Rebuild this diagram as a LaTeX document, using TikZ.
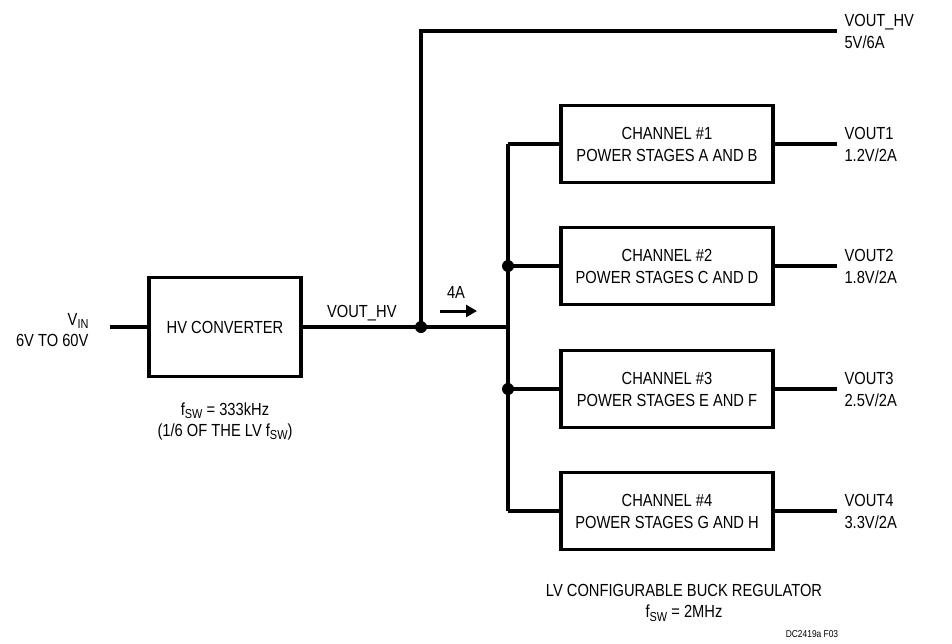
\documentclass[tikz,border=0pt]{standalone}
\usepackage{fontspec}
\setmainfont{Liberation Sans}[FakeStretch=0.84]
\usepackage{tikz}
\usetikzlibrary{arrows.meta, positioning, calc}
\newcommand{\lowsub}[1]{\raisebox{-0.35ex}{\fontsize{13}{13}\selectfont #1}}

\begin{document}
\begin{tikzpicture}[x=1pt, y=-1pt,
      blk/.style={draw, line width=3.4pt, minimum width=212pt, minimum height=77pt, align=center, font=\fontsize{17.5}{22}\selectfont},
      wire/.style={line width=3.2pt},
      lbl/.style={align=left, anchor=west, font=\fontsize{17.5}{22}\selectfont},
      txt/.style={align=center, font=\fontsize{17.5}{21}\selectfont},
      dot/.style={circle, fill, inner sep=0pt, minimum size=12pt}
    ]
      \useasboundingbox (0,0) rectangle (952,643);
      % HV side
      \node[blk, minimum width=152pt, minimum height=99pt] (hv) at (225,327) {HV CONVERTER};
      \coordinate (vin) at (110,327);
      \node[align=right, anchor=east, font=\fontsize{17.5}{21}\selectfont] (vinlbl) at (92,330) {V\lowsub{IN}\\6V TO 60V};
      \node[txt] (hvfsw) at (225,421) {f\lowsub{SW} = 333kHz\\(1/6 OF THE LV f\lowsub{SW})};
      \node[dot] (jhv) at (421,327) {};
      \coordinate (hvtop) at (421,31);
      \coordinate (hvout) at (837,31);
      \node[txt, above=2pt of $(hv.east)!0.5!(jhv)$] (hvlbl) {VOUT\_HV};
      \node[lbl] (hvoutlbl) at (841,31) {VOUT\_HV\\5V/6A};
      % LV channels
      \node[blk] (ch1) at (667,144) {CHANNEL \#1\\POWER STAGES A AND B};
      \node[blk] (ch2) at (667,266) {CHANNEL \#2\\POWER STAGES C AND D};
      \node[blk] (ch3) at (667,389) {CHANNEL \#3\\POWER STAGES E AND F};
      \node[blk] (ch4) at (667,511) {CHANNEL \#4\\POWER STAGES G AND H};
      \coordinate (bus) at (508,327);
      \coordinate (bustop) at (508,144);
      \coordinate (busbot) at (508,511);
      \node[dot] (j2) at (508,266) {};
      \node[dot] (j3) at (508,389) {};
      \coordinate (o1) at (837,144);
      \coordinate (o2) at (837,266);
      \coordinate (o3) at (837,389);
      \coordinate (o4) at (837,511);
      \node[lbl] (o1lbl) at (841,144) {VOUT1\\1.2V/2A};
      \node[lbl] (o2lbl) at (841,266) {VOUT2\\1.8V/2A};
      \node[lbl] (o3lbl) at (841,389) {VOUT3\\2.5V/2A};
      \node[lbl] (o4lbl) at (841,511) {VOUT4\\3.3V/2A};
      % current arrow
      \coordinate (a1) at (440,311);
      \coordinate (a2) at (477,311);
      \node[txt] (ilbl) at (456,292) {4A};
      \node[txt] (lvlbl) at (684,603) {LV CONFIGURABLE BUCK REGULATOR\\f\lowsub{SW} = 2MHz};
      \node[font=\fontsize{10}{10}\selectfont] (figno) at (812,634) {DC2419a F03};
      % wires
      \draw[wire] (vin) -- (hv.west);
      \draw[wire] (hv.east) -- (jhv.center) -- (bus);
      \draw[wire] (jhv.center) -- (hvtop) -- (hvout);
      \draw[wire, line width=3.8pt] (bustop) -- (busbot);
      \draw[wire] (bustop) -- (ch1.west);
      \draw[wire] (j2.center) -- (ch2.west);
      \draw[wire] (j3.center) -- (ch3.west);
      \draw[wire] (busbot) -- (ch4.west);
      \draw[wire] (ch1.east) -- (o1);
      \draw[wire] (ch2.east) -- (o2);
      \draw[wire] (ch3.east) -- (o3);
      \draw[wire] (ch4.east) -- (o4);
      \draw[line width=3pt, -{Triangle[length=11pt, width=12pt]}] (a1) -- (a2);
    \end{tikzpicture}
\end{document}
